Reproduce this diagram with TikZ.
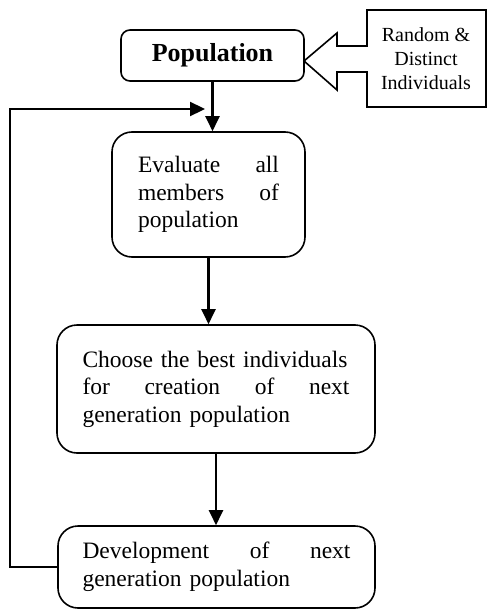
\documentclass[tikz,border=0pt]{standalone}
\usepackage{fontspec}
\setmainfont{Liberation Serif}
\usetikzlibrary{arrows.meta}
\tikzset{
  box/.style={draw, line width=1.6pt, inner ysep=0pt, align=left,
    font=\fontsize{23.5}{27.5}\selectfont},
  arr/.style={line width=2.3pt, -{Triangle[length=15pt,width=14pt]}},
}
\begin{document}
\begin{tikzpicture}[x=1pt,y=-1pt]
\useasboundingbox (0,0) rectangle (487,610);
% Population
\node[draw, line width=1.6pt, rounded corners=9pt, minimum width=183pt, minimum height=51pt,
  font=\fontsize{26}{30}\selectfont\bfseries, inner sep=0pt] (pop) at (212.5,55.5) {Population};
% Arrow callout
\draw[line width=1.6pt, line join=miter] (367,10) -- (486,10) -- (486,107) -- (367,107) -- (367,72) -- (337,72) -- (337,90)
  -- (304,61) -- (337,33) -- (337,46) -- (367,46) -- cycle;
\node[align=center, font=\fontsize{20}{24}\selectfont, inner sep=0pt] (rnd) at (426,59) {Random \&\\Distinct\\Individuals};
% Evaluate
\node[box, rounded corners=20pt, text width=141pt, inner xsep=26pt, minimum height=125pt] (eval) at (208.5,194.5)
  {Evaluate\hfill all\\members\hfill of\\population};
% Choose
\node[box, rounded corners=20pt, text width=267pt, inner xsep=25.5pt, minimum height=128pt] (choose) at (216,389)
  {Choose the best individuals\\for\hfill creation\hfill of\hfill next\\generation population};
% Development
\node[box, rounded corners=20pt, text width=268pt, inner xsep=24.5pt, minimum height=82pt] (dev) at (216.5,567)
  {Development\hfill of\hfill next\\generation population};
% connectors
\coordinate (fb) at (205,109);
\coordinate (lc) at (10,567);
\draw[arr] (pop.south) -- (pop.south |- eval.north);
\draw[arr] (eval.south) -- (eval.south |- choose.north);
\draw[arr] (choose.south) -- (choose.south |- dev.north);
\draw[arr, line join=miter] (dev.west) -- (lc) |- (fb);
\end{tikzpicture}
\end{document}
